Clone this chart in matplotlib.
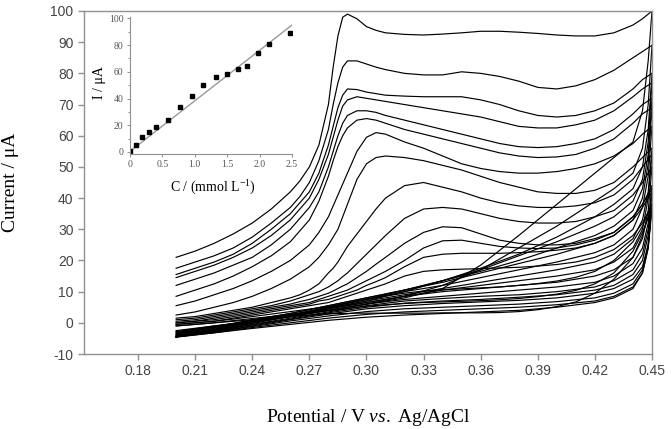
import numpy as np
import matplotlib
matplotlib.use("Agg")
import matplotlib.pyplot as plt

plt.rcParams['axes.unicode_minus'] = False
plt.rcParams['mathtext.fontset'] = 'custom'
plt.rcParams['mathtext.rm'] = 'Liberation Serif'
plt.rcParams['mathtext.it'] = 'Liberation Serif:italic'

# ---- main CV data ----
fwd_potential = [0.200, 0.210, 0.220, 0.230, 0.240, 0.250, 0.260, 0.265, 0.270, 0.275,
                 0.280, 0.2825, 0.285, 0.2875, 0.290, 0.295, 0.300, 0.305, 0.310, 0.320,
                 0.330, 0.340, 0.350, 0.360, 0.370, 0.380, 0.390, 0.400, 0.410, 0.420,
                 0.430, 0.440, 0.445, 0.450]

fwd_current = [
    [21, 23, 25.5, 28.5, 32, 36.5, 42, 45.5, 50, 57, 70, 82, 92, 98, 99, 97.5, 95, 93.8, 93, 92.5,
     92.3, 92.6, 93, 93.5, 93.5, 93.2, 92.8, 92.3, 92, 92, 93, 95.5, 97.5, 100],
    [17.5, 19.5, 21.5, 24, 27.5, 32, 37, 40.5, 45, 52, 62, 70, 77, 82, 84, 84, 83, 82, 81.2, 80,
     79.5, 79.5, 80.5, 80, 79, 77.5, 75.5, 75, 76, 78, 81, 85, 87, 89],
    [15.5, 17.5, 19.5, 22, 25.5, 30, 35, 38.5, 42, 48, 57, 63, 69, 73, 75, 74.8, 74, 73.5, 73, 72.7,
     72.5, 72.5, 72.5, 71.5, 70, 68, 66.5, 66, 66.5, 68, 70.5, 75, 78, 80],
    [14.5, 16.5, 18.5, 21, 24, 28, 33, 36.5, 40, 46, 54, 59.5, 65, 69.5, 71.5, 72.5, 72, 71.5, 71, 70,
     69, 68, 67, 66, 64.5, 63, 62.5, 62.5, 63.5, 65, 68, 72.5, 75, 77],
    [12, 14, 16, 18.5, 21, 25, 30, 33.5, 37, 42, 50, 55, 60, 64, 66.5, 68, 68, 67.5, 66.5, 65,
     63.5, 62, 60.5, 59, 57.5, 56.5, 56.2, 56.5, 57.5, 59, 62, 67, 70, 72],
    [8.5, 10.5, 12.5, 15, 18, 21.5, 26, 29.5, 33, 39, 47, 52, 56.5, 60, 62.5, 65, 65.5, 65, 64, 62,
     60.5, 59, 57.5, 56, 54.5, 53.5, 53, 53.2, 54, 56, 59, 64, 67, 69],
    [5.5, 7, 9, 11, 13.5, 16.5, 20, 22.5, 25, 29, 34, 37.5, 41, 44.5, 48, 55, 59.5, 61, 60.5, 58,
     56, 53.5, 51, 49.5, 48.5, 48, 48, 48.5, 49.5, 51, 53.5, 57.5, 60.5, 63],
    [2.5, 3.5, 5, 6.5, 8.5, 11, 14, 16, 18, 21, 25, 27.5, 30, 34, 38, 46, 51, 53, 53.5, 53,
     52, 50.5, 49, 47, 45, 43.5, 42, 41.5, 41.5, 42.5, 45, 50, 53, 56],
    [1.5, 2, 3, 4, 5, 6.5, 8, 9, 10.5, 12.5, 16, 17.5, 19.5, 22, 24.5, 28.5, 32.5, 36.5, 40, 44,
     45, 43.5, 42, 40, 38.5, 37.5, 37, 37, 37.5, 38.5, 41, 46, 50, 54],
    [1, 1.5, 2.5, 3.5, 4.5, 5.5, 7, 8, 9, 10, 11.5, 12.5, 13.5, 14.8, 16, 19, 22, 25, 28, 33.5,
     36.5, 37, 36.5, 35, 33.5, 32.5, 32, 32, 32.5, 34, 36, 41, 45, 50],
    [0.5, 1, 2, 3, 4, 5, 6, 6.8, 7.5, 8.5, 9.5, 10.2, 11, 11.8, 12.5, 14.5, 16.5, 18.8, 21, 25.5,
     29, 30.8, 30.5, 28.5, 26.5, 25.5, 25, 25, 25.5, 27, 29, 34, 38, 44],
    [0, 0.5, 1.5, 2.5, 3.5, 4.5, 5.5, 6, 6.5, 7.5, 8.5, 9, 9.5, 10, 10.5, 12, 13.5, 15, 16.5, 20,
     24, 26.3, 26.5, 25.5, 24.5, 24, 23.8, 24, 25, 26.5, 29, 34, 38, 43],
    [0, 0.5, 1, 2, 3, 4, 5, 5.5, 6, 7, 7.5, 8, 8.5, 9, 9.5, 10.5, 12, 13.2, 14.5, 18,
     21, 22, 22.3, 22.3, 22.3, 22.5, 22.8, 23.3, 24, 25.5, 28, 33, 37, 42],
    [-0.5, 0, 0.5, 1.5, 2.5, 3.5, 4.5, 5, 5.5, 6, 6.5, 7, 7.5, 8, 8.5, 9.5, 10.5, 11.5, 12.5, 15,
     16.5, 17, 17.2, 17.4, 17.6, 17.8, 18.2, 18.7, 19.5, 21, 23.5, 28, 32, 38],
    [-0.5, 0, 0.5, 1.2, 2, 2.8, 3.6, 4, 4.4, 4.8, 5.2, 5.5, 5.8, 6.1, 6.4, 7, 7.6, 8.1, 8.6, 9.5,
     10.2, 10.6, 10.9, 11.2, 11.5, 12, 12.6, 13.4, 14.6, 16.5, 20, 26, 31, 38],
    [-1, -0.5, 0, 0.7, 1.4, 2, 2.7, 3, 3.3, 3.6, 3.9, 4.05, 4.2, 4.4, 4.6, 5, 5.3, 5.55, 5.8, 6.2,
     6.5, 6.7, 6.9, 7.1, 7.4, 7.8, 8.4, 9.2, 10.4, 12.5, 16, 23, 29, 37],
    [-1, -0.5, 0, 0.5, 1, 1.5, 2, 2.25, 2.5, 2.7, 2.9, 2.95, 3, 3, 3, 3.1, 3.1, 3.1, 3.1, 3.1,
     3.1, 3.2, 3.2, 3.2, 3.3, 3.6, 4.2, 5.2, 6.7, 9.5, 14, 21, 28, 38],
]

rev_potential = [0.450, 0.448, 0.445, 0.440, 0.430, 0.420, 0.400, 0.380, 0.360, 0.340,
                 0.320, 0.300, 0.280, 0.260, 0.240, 0.220, 0.200]

rev_current = [
    [100, 84, 68, 58, 53, 48, 38, 28, 18.5, 11, 8, 6, 4, 2, 0.5, -1, -2.5],
    [89, 70, 56, 48, 43, 39, 31, 24, 17, 12, 8.5, 6, 4, 2, 0.5, -1, -2.8],
    [80, 62, 50, 43, 38, 34, 27.5, 22, 17.5, 13.5, 10, 7, 4.5, 2.5, 0.5, -1.2, -3],
    [77, 58, 46, 39, 34, 31, 26, 21.5, 17, 13.5, 10.5, 7.5, 5, 2.5, 0.5, -1.5, -3.2],
    [72, 54, 43, 36, 31, 28, 24, 20, 16.5, 13.5, 10.5, 8, 5.5, 3, 1, -1.3, -3.5],
    [69, 51, 40, 33, 28, 25.5, 22, 19, 16, 13, 10.5, 8, 5.5, 3, 0.8, -1.5, -3.7],
    [63, 47, 37, 30, 25, 22.5, 19.5, 17, 14.5, 12, 10, 7.5, 5, 2.5, 0.5, -1.8, -3.9],
    [56, 42, 33, 27, 22, 19.5, 17, 15, 13, 11, 9, 7, 4.8, 2.5, 0.3, -2, -4],
    [54, 40, 30, 24, 19.5, 17, 15, 13.5, 12, 10.5, 8.5, 6.5, 4.5, 2.2, 0, -2.2, -4.2],
    [50, 36, 27, 21, 17, 15, 13, 12, 11, 10, 8.5, 6.5, 4.5, 2, 0, -2.3, -4.3],
    [44, 32, 24, 19, 15, 13, 11.5, 10.5, 9.5, 8.5, 7.5, 6, 4, 2, -0.2, -2.5, -4.4],
    [43, 30, 22, 17, 13.5, 11.5, 10, 9, 8.5, 7.8, 7, 5.5, 3.5, 1.5, -0.5, -2.6, -4.5],
    [42, 28, 20, 15.5, 12, 10.5, 9, 8.2, 7.5, 7, 6.3, 5, 3.2, 1.2, -0.7, -2.7, -4.5],
    [38, 25, 18, 14, 11, 9.5, 8, 7.2, 6.7, 6.2, 5.5, 4.5, 2.8, 1, -1, -2.8, -4.5],
    [38, 25, 17, 12.5, 9.5, 8, 6.8, 6, 5.5, 5, 4.5, 3.6, 2.2, 0.6, -1.2, -3, -4.5],
    [37, 24, 16, 11.5, 8.5, 7, 5.8, 5, 4.5, 4, 3.5, 2.7, 1.5, 0, -1.5, -3.2, -4.6],
    [38, 24, 16, 11, 8, 6.5, 5, 4, 3.5, 3, 2.5, 1.8, 0.8, -0.5, -1.8, -3.2, -4.5],
]

# ---- inset calibration data ----
conc = [0, 0.10, 0.19, 0.29, 0.40, 0.58, 0.77, 0.95, 1.13, 1.32, 1.49, 1.66, 1.81, 1.98, 2.15, 2.47]
peak_i = [1, 5, 11, 15, 18.5, 24, 34, 42, 50, 56, 58, 62, 64.5, 74, 80.5, 89]
fit_c = [0, 2.5]
fit_i = [0.5, 95]

W, H = 671, 429
fig = plt.figure(figsize=(W / 100, H / 100), dpi=100)
ax = fig.add_axes([84 / W, 1 - 354 / H, (652 - 84) / W, (354 - 11) / H])

for y in fwd_current:
    ax.plot(fwd_potential, y, color='black', lw=0.85)
for y in rev_current:
    ax.plot(rev_potential, y, color='black', lw=0.85)

ax.set_xlim(0.1516, 0.45)
ax.set_ylim(-10, 100)
xt = np.arange(0.18, 0.451, 0.03)
ax.set_xticks(xt)
ax.set_xticklabels([f"{v:.2f}" for v in xt])
ax.set_yticks(np.arange(-10, 101, 10))
for s in ax.spines.values():
    s.set_color('#909090')
    s.set_linewidth(1.0)
ax.tick_params(direction='out', length=4, width=1, color='#909090',
               labelsize=10, labelcolor='#444444', top=False, right=False)
for lab in ax.get_xticklabels() + ax.get_yticklabels():
    lab.set_family('Liberation Sans')

fig.text(368 / W, 1 - 418 / H, r"$\mathrm{Potential\ /\ V\ }\mathit{vs.}\mathrm{\ Ag/AgCl}$",
         ha='center', va='center', fontsize=14)
fig.text(11 / W, 1 - 182 / H, "Current / μA", ha='center', va='center', rotation=90,
         family='Liberation Serif', fontsize=14)

# ---- inset ----
ins = fig.add_axes([130 / W, 1 - 154 / H, (292 - 130) / W, (154 - 17) / H])
ins.plot(fit_c, fit_i, color='#999999', lw=1.0)
ins.plot(conc, peak_i, 's', color='black', ms=3.2)
ins.set_xlim(0, 2.5)
ins.set_ylim(-1.5, 101)
ins.set_xticks([0, 0.5, 1.0, 1.5, 2.0, 2.5])
ins.set_xticklabels(["0", "0.5", "1.0", "1.5", "2.0", "2.5"])
ins.set_yticks([0, 20, 40, 60, 80, 100])
ins.set_yticks([10, 30, 50, 70, 90], minor=True)
ins.spines['top'].set_visible(False)
ins.spines['right'].set_visible(False)
for s in ['left', 'bottom']:
    ins.spines[s].set_color('#909090')
    ins.spines[s].set_linewidth(0.8)
ins.tick_params(which='both', direction='out', length=2.5, width=0.7, color='#909090',
                labelsize=7, labelcolor='#555555', pad=2)
ins.tick_params(which='minor', length=1.5)
for lab in ins.get_xticklabels() + ins.get_yticklabels():
    lab.set_family('Liberation Serif')
ins.patch.set_alpha(0)

fig.text(213 / W, 1 - 188 / H, r"C / (mmol L$^{\mathregular{-1}}$)", ha='center', va='center',
         family='Liberation Serif', fontsize=10)
fig.text(100 / W, 1 - 83 / H, "I / μA", ha='center', va='center', rotation=90,
         family='Liberation Serif', fontsize=10)

fig.savefig("out.png", dpi=100)
